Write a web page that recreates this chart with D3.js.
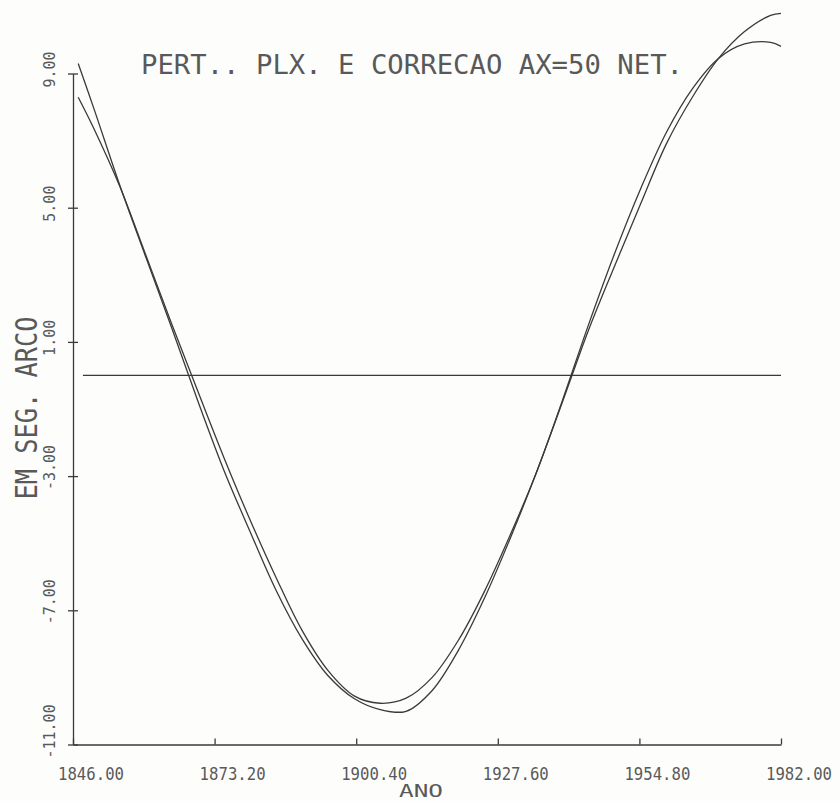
<!DOCTYPE html>
<html>
<head>
<meta charset="utf-8">
<script src="https://cdn.jsdelivr.net/npm/d3@7"></script>
<style>
  body { margin: 0; background: #fdfdfc; }
  text { font-family: "DejaVu Sans Mono", "Liberation Mono", monospace; fill: #595959; }
</style>
</head>
<body>
<svg id="mySvg"></svg>
<script>
const width = 840;
const height = 801;

// data (arc seconds by year)
const years = [1847, 1850, 1855, 1860, 1865, 1870, 1875, 1880, 1885, 1890, 1895, 1900, 1905, 1910,
  1915, 1920, 1925, 1930, 1935, 1940, 1945, 1950, 1955, 1960, 1965, 1970, 1975, 1980, 1982];
const seriesA = [9.30, 7.96, 5.66, 3.52, 1.40, -0.77, -2.83, -4.65, -6.40, -7.85, -8.95, -9.63, -9.96, -10.01,
  -9.39, -8.20, -6.65, -4.85, -2.90, -0.80, 1.34, 3.25, 5.10, 6.91, 8.30, 9.45, 10.25, 10.73, 10.79];
const seriesB = [8.29, 7.36, 5.63, 3.58, 1.52, -0.48, -2.45, -4.30, -6.02, -7.60, -8.80, -9.55, -9.77, -9.62,
  -9.00, -7.90, -6.45, -4.75, -2.90, -0.75, 1.50, 3.62, 5.55, 7.25, 8.55, 9.45, 9.88, 9.93, 9.81];
const zeroYears = [1847.9, 1982];

const xTicks = [1846, 1873.2, 1900.4, 1927.6, 1954.8, 1982];
const xTickLabels = ["1846.00", "1873.20", "1900.40", "1927.60", "1954.80", "1982.00"];
const yTicks = [9, 5, 1, -3, -7, -11];
const yTickLabels = ["9.00", "5.00", "1.00", "-3.00", "-7.00", "-11.00"];

const title = "PERT.. PLX. E CORRECAO AX=50 NET.";
const yTitle = "EM SEG. ARCO";
const xTitle = "ANO";

const ink = "#3a3a3a";

const svg = d3.select("#mySvg").attr("width", width).attr("height", height);

const x = d3.scaleLinear().domain([1846, 1982]).range([73, 781]);
const y = d3.scaleLinear().domain([-11, 9]).range([744.5, 73.5]);

// axes
const xAxis = svg.append("g")
  .attr("transform", `translate(0, ${y(-11)})`)
  .call(d3.axisBottom(x).tickValues(xTicks).tickSize(-6).tickSizeOuter(0).tickFormat(""));

const yAxis = svg.append("g")
  .attr("transform", `translate(${x(1846)}, 0)`)
  .call(d3.axisLeft(y).tickValues(yTicks).tickSize(5).tickSizeOuter(0).tickFormat(""));

yAxis.selectAll(".tick line").attr("x2", 5).attr("x1", -5);

[xAxis, yAxis].forEach((a) => {
  a.selectAll("path, line").attr("stroke", ink).attr("stroke-width", 1.3);
});

// tick labels
svg.append("g")
  .selectAll("text")
  .data(xTicks)
  .enter()
  .append("text")
  .attr("x", (d) => x(d) - 15)
  .attr("y", y(-11) + 35)
  .attr("font-size", 17)
  .attr("textLength", 66)
  .attr("lengthAdjust", "spacingAndGlyphs")
  .text((d, i) => xTickLabels[i]);

// y labels read bottom to top, starting just below their tick
svg.append("g")
  .selectAll("text")
  .data(yTicks)
  .enter()
  .append("text")
  .attr("transform", (d) => `translate(55, ${y(d) + 14}) rotate(-90)`)
  .attr("font-size", 15)
  .text((d, i) => yTickLabels[i]);

// titles
svg.append("text")
  .attr("x", 141)
  .attr("y", 74)
  .attr("font-size", 26)
  .attr("textLength", 542)
  .attr("lengthAdjust", "spacingAndGlyphs")
  .text(title);

svg.append("text")
  .attr("transform", "translate(37, 408) rotate(-90)")
  .attr("text-anchor", "middle")
  .attr("font-size", 30)
  .attr("textLength", 183)
  .attr("lengthAdjust", "spacingAndGlyphs")
  .text(yTitle);

svg.append("text")
  .attr("x", 399)
  .attr("y", 797)
  .attr("font-size", 18)
  .attr("textLength", 44)
  .attr("lengthAdjust", "spacingAndGlyphs")
  .text(xTitle);

// zero reference line
svg.append("line")
  .attr("x1", x(zeroYears[0]))
  .attr("x2", x(zeroYears[1]))
  .attr("y1", y(0))
  .attr("y2", y(0))
  .attr("stroke", ink)
  .attr("stroke-width", 1.2);

// curves
const line = d3.line()
  .x((d) => x(d[0]))
  .y((d) => y(d[1]))
  .curve(d3.curveCatmullRom.alpha(0.5));

[seriesA, seriesB].forEach((s) => {
  svg.append("path")
    .datum(years.map((yr, i) => [yr, s[i]]))
    .attr("fill", "none")
    .attr("stroke", ink)
    .attr("stroke-width", 1.3)
    .attr("d", line);
});
</script>
</body>
</html>
